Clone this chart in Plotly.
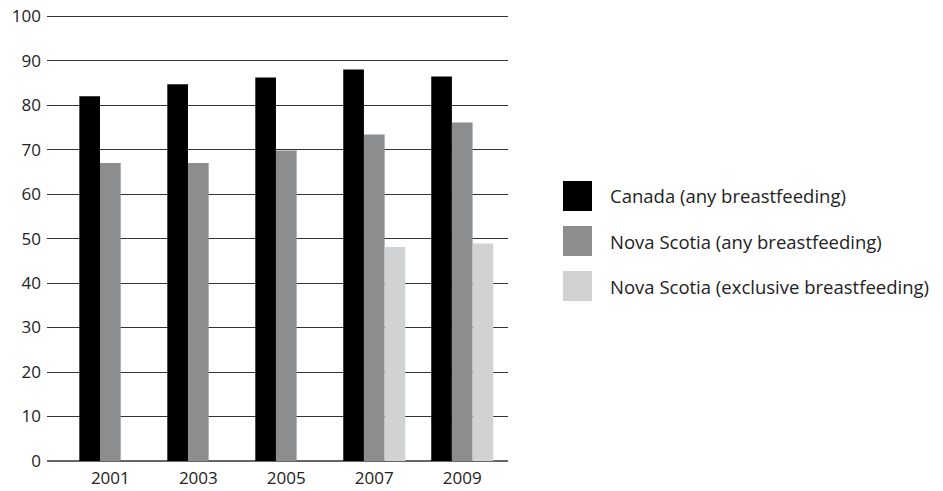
import plotly.graph_objects as go

years = ["2001", "2003", "2005", "2007", "2009"]
canada_any = [82.0, 84.7, 86.2, 88.0, 86.4]
ns_any = [67.0, 67.0, 69.8, 73.4, 76.1]
ns_exclusive = [None, None, None, 48.1, 48.9]

series_names = ["Canada (any breastfeeding)", "Nova Scotia (any breastfeeding)",
                "Nova Scotia (exclusive breastfeeding)"]
series_values = [canada_any, ns_any, ns_exclusive]
colors = ["#000000", "#8c8d8f", "#d1d2d4"]

FONT = "'Open Sans', sans-serif"

fig = go.Figure()
for name, vals, col in zip(series_names, series_values, colors):
    fig.add_trace(go.Bar(x=years, y=vals, name=name, marker=dict(color=col, line=dict(width=0)),
                         showlegend=False))

W, H = 943, 491
ml, mr, mt, mb = 47, 435, 15, 30
fig.update_layout(
    width=W, height=H,
    margin=dict(l=ml, r=mr, t=mt, b=mb),
    paper_bgcolor="white", plot_bgcolor="white",
    barmode="group", bargap=0.295, bargroupgap=0,
    font=dict(family=FONT, color="#222222", size=15),
    xaxis=dict(type="category", range=[-0.72, 4.52], showgrid=False, showline=False,
               zeroline=False, ticks="", tickfont=dict(size=17), ticklabelstandoff=5,
               automargin=False),
    yaxis=dict(range=[0, 100.25], tickvals=[0, 10, 20, 30, 40, 50, 60, 70, 80, 90, 100],
               showgrid=True, gridcolor="#333333", gridwidth=1,
               zeroline=True, zerolinecolor="#666666", zerolinewidth=2,
               showline=False, ticks="", tickfont=dict(size=17), ticklabelstandoff=5,
               automargin=False),
)

# Legend drawn as boxes + text
pw = W - ml - mr
ph = H - mt - mb
px0 = 563
for i, (name, col) in enumerate(zip(series_names, colors)):
    cy = 196 + 45 * i
    fig.add_shape(type="rect", xref="paper", yref="paper",
                  x0=(px0 - ml) / pw, x1=(px0 + 29 - ml) / pw,
                  y0=(H - mb - (cy + 15)) / ph, y1=(H - mb - (cy - 15)) / ph,
                  fillcolor=col, line=dict(width=0))
    fig.add_annotation(xref="paper", yref="paper",
                       x=(608 - ml) / pw, y=(H - mb - cy) / ph,
                       xanchor="left", yanchor="middle", showarrow=False,
                       text=name, font=dict(size=18.5, color="#222222", family=FONT))

fig.write_html("out.html")
